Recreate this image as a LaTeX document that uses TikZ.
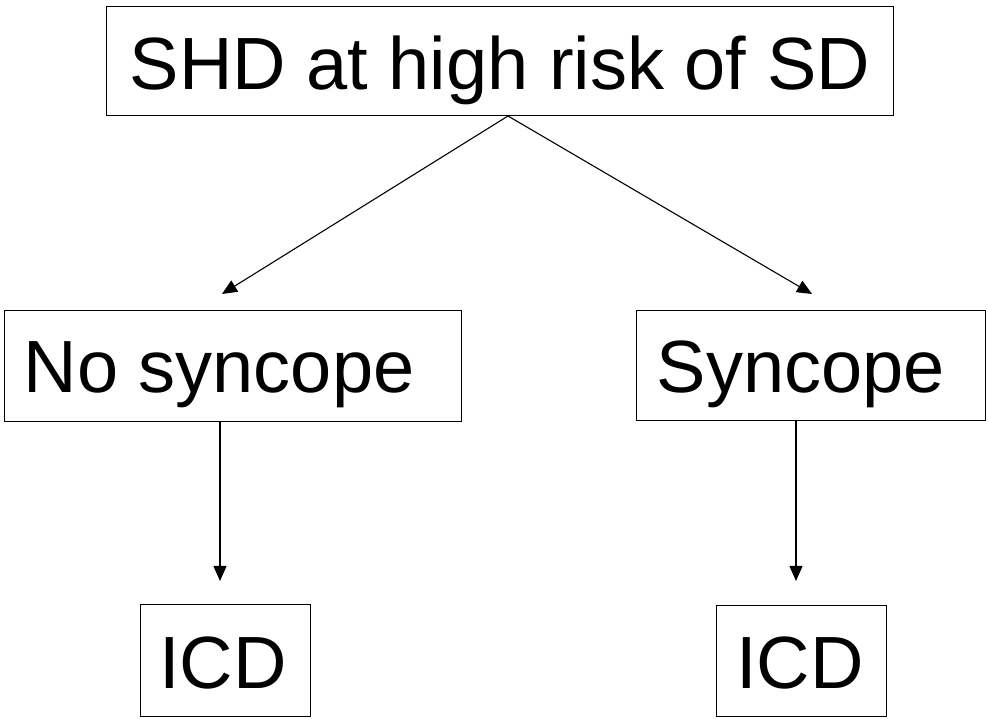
\documentclass[tikz,border=0pt]{standalone}
\usepackage{fontspec}
\setmainfont{Liberation Sans}
\usetikzlibrary{arrows.meta}
\begin{document}
\begin{tikzpicture}[x=1pt,y=1pt,
  box/.style={draw=black, line width=1.3pt, rectangle, inner sep=0pt, anchor=south west},
  lbl/.style={anchor=base west, inner sep=0pt, font=\fontsize{74}{88}\selectfont},
  link/.style={line width=1.1pt, -{Triangle[length=15pt,width=13pt]}}]
\useasboundingbox (0,0) rectangle (988,718);
% boxes
\node[box, minimum width=787pt, minimum height=109pt] (top) at (106,602) {};
\node[box, minimum width=457pt, minimum height=111pt] (nosync) at (4,296) {};
\node[box, minimum width=349pt, minimum height=110pt] (sync) at (636,297) {};
\node[box, minimum width=170pt, minimum height=112pt] (icdl) at (140,1) {};
\node[box, minimum width=170pt, minimum height=111pt] (icdr) at (716,1) {};
% labels
\node[lbl] (toptxt) at (129.5,628) {SHD at high risk of SD};
\node[lbl] (nosynctxt) at (23.5,325) {No syncope};
\node[lbl] (synctxt) at (656.5,325) {Syncope};
\node[lbl] (icdltxt) at (159,30) {ICD};
\node[lbl] (icdrtxt) at (736,30) {ICD};
% connector end points
\coordinate (apex) at (508,602);
\coordinate (lend) at (222,424);
\coordinate (rend) at (812,424);
\coordinate (lstart) at (220,296);
\coordinate (lstop) at (220,137);
\coordinate (rstart) at (796,297);
\coordinate (rstop) at (796,137);
% connectors
\draw[link] (apex) -- (lend);
\draw[link] (apex) -- (rend);
\draw[link] (lstart) -- (lstop);
\draw[link] (rstart) -- (rstop);
\end{tikzpicture}
\end{document}
